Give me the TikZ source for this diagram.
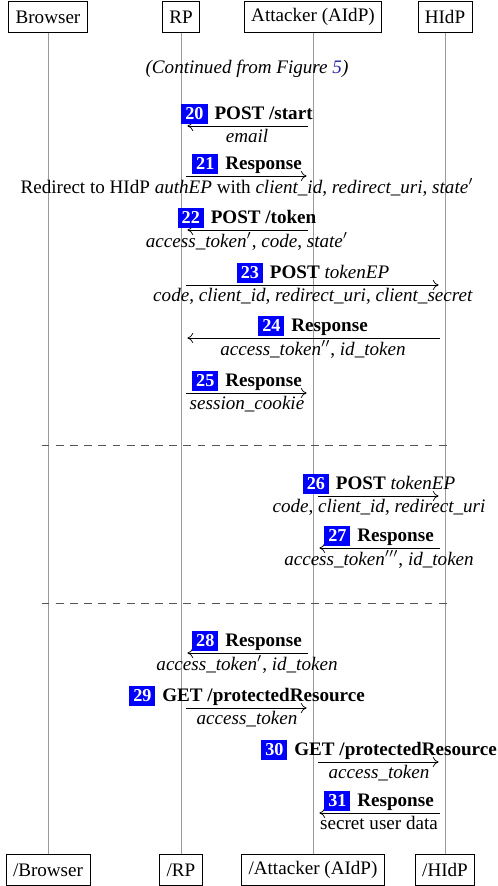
\documentclass[tikz,border=0pt,11pt]{standalone}
\usepackage{fontspec}
\setmainfont{Liberation Serif}
\usepackage{xcolor}
\usepackage{tikz}
\usetikzlibrary{arrows.meta,positioning}
\definecolor{lifegray}{HTML}{9A9A9A}
\definecolor{sepgray}{HTML}{555555}
\definecolor{numblue}{HTML}{0000FF}
\definecolor{linkblue}{HTML}{2A2AA0}
\newcommand{\stepno}[1]{{\setlength{\fboxsep}{2.2pt}\colorbox{numblue}{\textcolor{white}{\bfseries\small #1}}}\hspace{1.2pt}}
\tikzset{
  % participant boxes at top and bottom of each lifeline
  actor/.style = {rectangle, draw, thin, inner xsep=3.8pt, minimum height=17pt},
  life/.style  = {draw=lifegray, thin},
  msg/.style   = {-{To[length=3.2pt,width=5.5pt]}, thin, shorten <=3pt, shorten >=3.5pt},
  head/.style  = {above, midway, inner sep=1pt},
  args/.style  = {below, midway, inner sep=1.4pt},
  sep/.style   = {dash pattern=on 4.3pt off 3.5pt, thin, sepgray},
}
\begin{document}
\begin{tikzpicture}[x=0.55pt, y=-0.55pt, font=\fontsize{10.5}{12.6}\selectfont]
\useasboundingbox (0,0) rectangle (497,886);
\node[actor] (brw)  at (48,17)  {Browser};
\node[actor] (rp)   at (181,17) {RP};
\node[actor] (atk)  at (313,17) {Attacker (AIdP)};
\node[actor] (hidp) at (445,17) {HIdP};
\node[actor] (brw-end)  at (48,870)  {/Browser};
\node[actor] (rp-end)   at (181,870) {/RP};
\node[actor] (atk-end)  at (313,870) {/Attacker (AIdP)};
\node[actor] (hidp-end) at (445,870) {/HIdP};
\draw[life] (brw) -- (brw-end);
\draw[life] (rp) -- (rp-end);
\draw[life] (atk) -- (atk-end);
\draw[life] (hidp) -- (hidp-end);
\node (cont) at (247,69) {\textit{(Continued from Figure \textcolor{linkblue}{5})}};
\coordinate (m20) at (0,126);
\coordinate (m21) at (0,176);
\coordinate (m22) at (0,230);
\coordinate (m23) at (0,285);
\coordinate (m24) at (0,338);
\coordinate (m25) at (0,393);
\coordinate (d1)  at (0,445);
\coordinate (m26) at (0,496);
\coordinate (m27) at (0,548);
\coordinate (d2)  at (0,603);
\coordinate (m28) at (0,653);
\coordinate (m29) at (0,708);
\coordinate (m30) at (0,762);
\coordinate (m31) at (0,813);
\draw[msg] (atk |- m20) -- (rp |- m20)
  node[head] {\stepno{20} \textbf{POST /start}} node[args] {\textit{email}};
\draw[msg] (rp |- m21) -- (atk |- m21)
  node[head] {\stepno{21} \textbf{Response}}
  node[args] {Redirect to HIdP \textit{authEP} with \textit{client\_id}, \textit{redirect\_uri}, \textit{state}$'$};
\draw[msg] (atk |- m22) -- (rp |- m22)
  node[head] {\stepno{22} \textbf{POST /token}}
  node[args] {\textit{access\_token}$'$, \textit{code}, \textit{state}$'$};
\draw[msg] (rp |- m23) -- (hidp |- m23)
  node[head] {\stepno{23} \textbf{POST} \textit{tokenEP}}
  node[args] {\textit{code}, \textit{client\_id}, \textit{redirect\_uri}, \textit{client\_secret}};
\draw[msg] (hidp |- m24) -- (rp |- m24)
  node[head] {\stepno{24} \textbf{Response}}
  node[args] {\textit{access\_token}$''$, \textit{id\_token}};
\draw[msg] (rp |- m25) -- (atk |- m25)
  node[head] {\stepno{25} \textbf{Response}} node[args] {\textit{session\_cookie}};
\draw[sep] ([xshift=-3.5pt]brw |- d1) -- ([xshift=2pt]hidp |- d1);
\draw[msg] (atk |- m26) -- (hidp |- m26)
  node[head] {\stepno{26} \textbf{POST} \textit{tokenEP}}
  node[args] {\textit{code}, \textit{client\_id}, \textit{redirect\_uri}};
\draw[msg] (hidp |- m27) -- (atk |- m27)
  node[head] {\stepno{27} \textbf{Response}}
  node[args] {\textit{access\_token}$'''$, \textit{id\_token}};
\draw[sep] ([xshift=-3.5pt]brw |- d2) -- ([xshift=2pt]hidp |- d2);
\draw[msg] (atk |- m28) -- (rp |- m28)
  node[head] {\stepno{28} \textbf{Response}}
  node[args] {\textit{access\_token}$'$, \textit{id\_token}};
\draw[msg] (rp |- m29) -- (atk |- m29)
  node[head] {\stepno{29} \textbf{GET /protectedResource}} node[args] {\textit{access\_token}};
\draw[msg] (atk |- m30) -- (hidp |- m30)
  node[head] {\stepno{30} \textbf{GET /protectedResource}} node[args] {\textit{access\_token}};
\draw[msg] (hidp |- m31) -- (atk |- m31)
  node[head] {\stepno{31} \textbf{Response}} node[args] {secret user data};
\end{tikzpicture}
\end{document}
